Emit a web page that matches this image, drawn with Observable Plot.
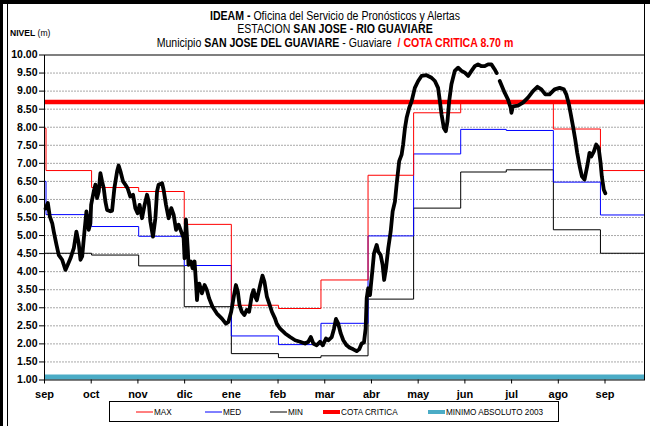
<!DOCTYPE html>
<html>
<head>
<meta charset="utf-8">
<script src="https://cdn.jsdelivr.net/npm/d3@7"></script>
<script src="https://cdn.jsdelivr.net/npm/@observablehq/plot@0.6"></script>
<style>
  html, body { margin: 0; padding: 0; background: #fff; }
  #chart {
    position: relative; width: 650px; height: 426px; overflow: hidden;
    font-family: "Liberation Sans", Arial, sans-serif;
  }
  #chart > svg { position: absolute; left: 0; top: 0; }
  .edge { position: absolute; background: #000; }
  .title { position: absolute; left: 0; width: 670px; text-align: center; font-size: 12px; color: #000;
           white-space: nowrap; transform: scaleX(0.88); transform-origin: 335px 0; }
  .ylab { position: absolute; left: 10px; top: 27px; font-size: 9.5px; transform: scaleX(0.9); transform-origin: 0 0; }
  .legend {
    position: absolute; left: 109px; top: 401px; width: 448px; height: 19px;
    border: 1px solid #000; font-size: 9.5px; background: #fff;
  }
  .item { position: absolute; top: 4px; white-space: nowrap; display: flex; align-items: center; }
  .item svg { display: block; margin-right: 1px; }
  .txt { display: inline-block; transform: scaleX(0.86); transform-origin: 0 50%; }
</style>
</head>
<body>
<div id="chart">
  <div class="title" style="top:9px"><b>IDEAM -</b> Oficina del Servicio de Pronósticos y Alertas</div>
  <div class="title" style="top:22px">ESTACION <b>SAN JOSE - RIO GUAVIARE</b></div>
  <div class="title" style="top:36px">Municipio <b>SAN JOSE DEL GUAVIARE</b> - Guaviare &nbsp;<b style="color:#ff0000">/ COTA CRITICA 8.70 m</b></div>
  <div class="ylab"><b>NIVEL</b> (m)</div>
</div>
<script>
// Nivel diario del río (día 0 = 31 de agosto), null = sin dato
const dias = [0.7, 2.2, 3.5, 5.1, 6.1, 7.9, 9.4, 11.6, 13.8, 15.3, 17.1, 19.3, 21.0, 22.5, 23.7, 24.8, 26.3, 27.6, 29.1, 30.2,
  30.7, 32.4, 33.5, 34.6, 35.7, 36.8, 37.9, 39.0, 40.1, 41.2, 43.4, 44.5, 46.0, 47.8, 48.8, 50.0, 51.7, 53.2, 54.7, 56.5,
  58.3, 59.8, 61.3, 62.6, 64.2, 65.7, 67.5, 68.6, 69.7, 71.4, 73.0, 74.1, 75.1, 77.4, 78.4, 80.0, 81.7, 83.5, 85.0, 86.6,
  88.3, 90.0, 91.6, 92.2, 93.1, 94.4, 94.8, 96.4, 97.5, 98.8, 99.7, 100.4, 101.0, 101.9, 103.6, 105.4, 106.9, 108.4, 110.6, 113.5,
  116.8, 119.4, 121.1, 122.9, 124.4, 126.0, 127.3, 128.4, 129.9, 131.6, 133.2, 134.7, 136.5, 137.6, 138.7, 139.8, 142.0, 143.5, 144.8, 146.4,
  147.9, 149.7, 151.8, 152.9, 155.1, 158.4, 161.7, 165.0, 168.2, 171.5, 173.7, 175.3, 177.0, 179.2, 181.4, 183.2, 185.3, 186.8, 189.1, 190.6,
  191.9, 193.4, 195.0, 196.7, 198.9, 201.1, 203.3, 205.5, 207.2, 208.8, 210.3, 211.4, 212.1, 213.1, 214.3, 214.9, 216.0, 216.9, 218.7, 219.7,
  221.3, 222.6, 223.6, 224.8, 226.3, 227.9, 229.2, 230.7, 231.8, 233.5, 235.1, 236.1, 237.3, 238.4, 240.1, 241.7, 243.8, 246.0, 248.2, 251.5,
  254.8, 257.0, 259.1, 260.3, 261.4, 262.9, 264.2, 265.3, 266.4, 267.9, 270.1, 272.3, 274.5, 276.7, 278.9, 281.1, 283.3, 285.4, 287.7, 289.8,
  292.0, 294.2, 296.4, 297.7, 298.7, 299.7, 303.0, 305.1, 306.9, 307.4, 308.4, 311.7, 315.0, 318.3, 321.6, 324.5, 327.1, 329.7, 332.5, 335.8,
  339.1, 341.9, 343.5, 345.0, 346.3, 347.9, 349.4, 350.7, 352.3, 353.8, 355.5, 357.3, 358.8, 360.0, 361.7, 363.2, 364.8, 366.1, 366.9, 368.2, 369.2];
const nivel = [5.75, 5.90, 5.53, 5.34, 5.11, 4.74, 4.46, 4.33, 4.05, 4.19, 4.37, 4.65, 5.11, 4.79, 4.33, 4.42, 5.11, 5.67, 5.16, 5.34,
  5.85, 6.22, 6.41, 6.04, 6.22, 6.73, 6.50, 6.31, 5.94, 5.71, 5.67, 5.69, 6.31, 6.78, 6.94, 6.78, 6.50, 6.41, 6.31, 6.08,
  6.13, 5.76, 5.62, 5.85, 5.48, 5.81, 6.13, 5.94, 5.39, 4.97, 5.48, 6.22, 6.41, 6.45, 6.27, 5.85, 5.48, 5.76, 5.58, 5.16,
  5.30, 5.11, 4.93, 4.37, 5.44, 4.56, 4.19, 4.28, 4.09, 4.28, 3.72, 3.21, 3.54, 3.67, 3.40, 3.63, 3.49, 3.26, 3.03, 2.84,
  2.70, 2.56, 2.61, 2.89, 3.26, 3.63, 3.44, 3.07, 2.89, 2.80, 2.94, 2.89, 3.35, 3.49, 3.31, 3.21, 3.63, 3.89, 3.72, 3.31,
  3.12, 2.89, 2.70, 2.56, 2.42, 2.29, 2.19, 2.10, 2.06, 2.01, 2.06, 2.19, 2.01, 1.96, 2.06, 1.96, 2.15, 2.10, 2.19, 2.42,
  2.69, 2.56, 2.29, 2.10, 1.96, 1.89, 1.85, 1.80, 1.85, 2.01, 2.04, 2.42, 3.26, 3.54, 3.35, 3.63, 4.09, 4.50, 4.74, 4.56,
  4.46, 4.19, 3.77, 4.09, 4.65, 5.11, 5.67, 5.94, 6.41, 7.06, 7.24, 7.52, 7.98, 8.26, 8.54, 8.72, 9.09, 9.28, 9.42, 9.44,
  9.37, 9.28, 9.09, 8.72, 8.35, 7.98, 7.89, 8.17, 8.72, 9.19, 9.56, 9.65, 9.56, 9.51, 9.42, 9.56, 9.69, 9.74, 9.69, 9.69,
  9.74, 9.74, 9.60, 9.50, null, 9.28, 8.95, 8.77, 8.54, 8.40, 8.58, 8.60, 8.68, 8.82, 9.00, 9.12, 9.05, 8.91, 8.91, 9.05,
  9.09, 9.05, 8.91, 8.68, 8.40, 8.03, 7.66, 7.29, 6.92, 6.64, 6.55, 6.92, 7.29, 7.19, 7.33, 7.52, 7.43, 7.01, 6.64, 6.27, 6.17];

// Niveles históricos mensuales (escalones): inicio de cada mes en días
const inicioMes = [0, 1, 31, 62, 92, 123, 154, 182, 213, 243, 274, 304, 335, 366];
const nivelMax  = [7.97, 6.80, 6.33, 6.22, 5.31, 3.07, 2.98, 3.77, 6.67, 8.40, 8.68, 8.68, 7.95, 6.80];
const nivelMed  = [6.50, 5.58, 5.25, 4.98, 4.17, 2.22, 1.98, 2.57, 4.99, 7.26, 7.94, 7.91, 6.48, 5.57];
const nivelMin  = [4.51, 4.51, 4.46, 4.16, 3.03, 1.73, 1.62, 1.67, 3.24, 5.76, 6.76, 6.82, 5.16, 4.51];

const cotaCritica = 8.70;
const minimoAbsoluto2003 = 1.08;

// Eje horizontal
const finDias = 395;
const pasoEtiquetas = 30.75;
const mesesEje = ["sep", "oct", "nov", "dic", "ene", "feb", "mar", "abr", "may", "jun", "jul", "ago", "sep"];
const ticksY = d3.range(1, 10.001, 0.5);

const serie = dias.map((d, i) => ({dia: d, valor: nivel[i]}));
const escalones = (vals) => inicioMes.map((d, i) => ({dia: d, valor: vals[i]}))
  .concat([{dia: finDias, valor: vals[vals.length - 1]}]);
const xTicks = mesesEje.map((_, i) => i * pasoEtiquetas);

const plot = Plot.plot({
  width: 650,
  height: 426,
  marginLeft: 44,
  marginRight: 6,
  marginTop: 54.5,
  marginBottom: 46.5,
  style: {background: "transparent", fontFamily: "'Liberation Sans', Arial, sans-serif"},
  x: {domain: [0, finDias], axis: null},
  y: {domain: [1, 10], axis: null},
  marks: [
    Plot.ruleY(ticksY.filter(v => v > 1 && v < 10), {stroke: "#a8a8a8", strokeDasharray: "2,1", strokeWidth: 1}),
    Plot.line(escalones(nivelMin), {x: "dia", y: "valor", curve: "step-after", stroke: "#000", strokeWidth: 1}),
    Plot.line(escalones(nivelMed), {x: "dia", y: "valor", curve: "step-after", stroke: "#0000ff", strokeWidth: 1}),
    Plot.line(escalones(nivelMax), {x: "dia", y: "valor", curve: "step-after", stroke: "#ff0000", strokeWidth: 1}),
    Plot.ruleY([cotaCritica], {stroke: "#ff0000", strokeWidth: 4.5}),
    Plot.ruleY([minimoAbsoluto2003], {stroke: "#4bacc6", strokeWidth: 5}),
    Plot.frame({stroke: "#000", strokeWidth: 1}),
    Plot.axisY(ticksY, {label: null, tickSize: 5, tickPadding: 2, tickFormat: d => d.toFixed(2), fontSize: 10.5, fontWeight: "bold", stroke: "#000"}),
    Plot.axisX(xTicks, {label: null, tickSize: 4, tickPadding: 6, tickFormat: (d, i) => mesesEje[i], fontSize: 11, fontWeight: "bold", stroke: "#000"}),
    Plot.line(serie, {x: "dia", y: "valor", stroke: "#000", strokeWidth: 3.8, strokeLinejoin: "round", strokeLinecap: "round"})
  ]
});
const chart = document.getElementById("chart");
chart.insertBefore(plot, chart.firstChild);

// Bordes del área del gráfico
const edges = [
  {l: 0, t: 0, w: 650, h: 4},
  {l: 0, t: 0, w: 3, h: 426},
  {l: 7, t: 4, w: 1, h: 422},
  {l: 644, t: 4, w: 1, h: 51}
];
edges.forEach(e => {
  const d = document.createElement("div");
  d.className = "edge";
  Object.assign(d.style, {left: e.l + "px", top: e.t + "px", width: e.w + "px", height: e.h + "px"});
  chart.appendChild(d);
});

// Leyenda
const leyenda = [
  {label: "MAX", color: "#ff0000", w: 1, left: 26},
  {label: "MED", color: "#0000ff", w: 1, left: 95},
  {label: "MIN", color: "#000000", w: 1, left: 160},
  {label: "COTA CRITICA", color: "#ff0000", w: 4, left: 213},
  {label: "MINIMO ABSOLUTO 2003", color: "#4bacc6", w: 4, left: 318}
];
const box = document.createElement("div");
box.className = "legend";
leyenda.forEach(it => {
  const s = document.createElement("div");
  s.className = "item";
  s.style.left = it.left + "px";
  s.innerHTML = `<svg width="17" height="10"><line x1="0" x2="17" y1="5" y2="5" stroke="${it.color}" stroke-width="${it.w}"/></svg><span class="txt">${it.label}</span>`;
  box.appendChild(s);
});
chart.appendChild(box);
</script>
</body>
</html>
